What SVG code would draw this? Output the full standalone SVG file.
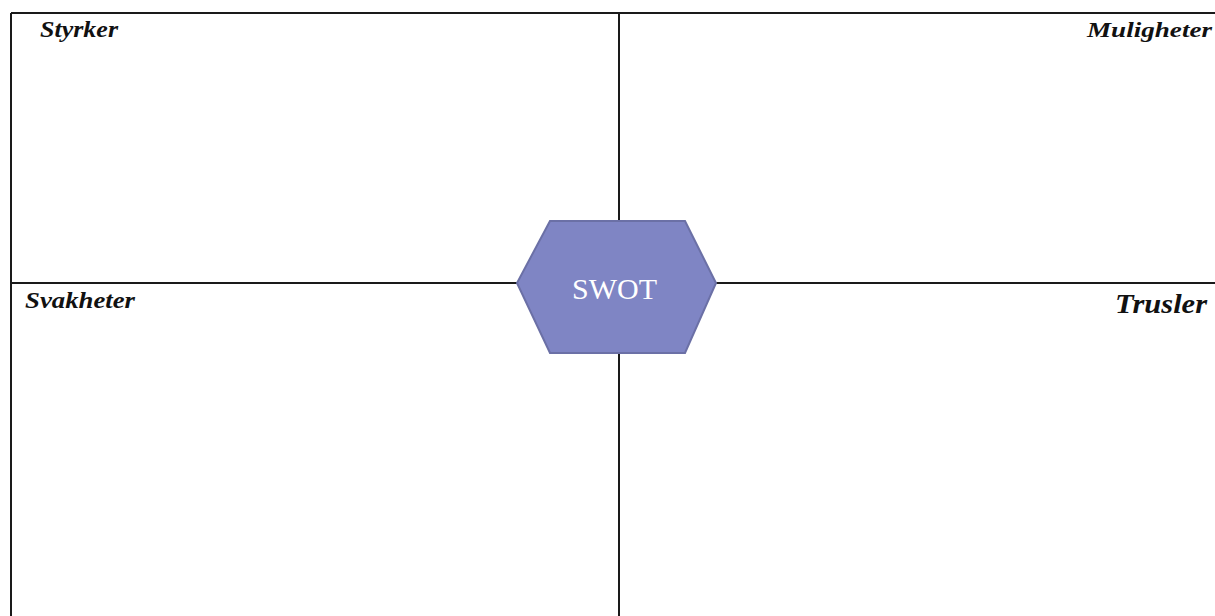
<svg xmlns="http://www.w3.org/2000/svg" width="1215" height="616" viewBox="0 0 1215 616">
<style>
.ln{stroke:#1a1a1a;stroke-width:2;fill:none}
.lbl{font-family:"Liberation Serif",serif;font-weight:bold;font-style:italic;fill:#111}
</style>
<rect width="1215" height="616" fill="#fff"/>
<g id="connectors">
<line class="ln" x1="11" y1="13" x2="1215" y2="13"/>
<line class="ln" x1="11" y1="13" x2="11" y2="616"/>
<line class="ln" x1="11" y1="283" x2="1215" y2="283"/>
<line class="ln" x1="619" y1="13" x2="619" y2="616"/>
</g>
<g id="styrker"><text class="lbl" x="40" y="37" font-size="23" textLength="78" lengthAdjust="spacingAndGlyphs">Styrker</text></g>
<g id="muligheter"><text class="lbl" x="1087" y="37" font-size="22" textLength="125" lengthAdjust="spacingAndGlyphs">Muligheter</text></g>
<g id="svakheter"><text class="lbl" x="25" y="308" font-size="23" textLength="110" lengthAdjust="spacingAndGlyphs">Svakheter</text></g>
<g id="trusler"><text class="lbl" x="1115" y="313" font-size="28" textLength="92" lengthAdjust="spacingAndGlyphs">Trusler</text></g>
<g id="swot">
<polygon points="550,221 685,221 716,283 685,353 550,353 517,283" fill="#7f85c4" stroke="#6b70a6" stroke-width="2"/>
<text x="572" y="299" font-family="Liberation Serif,serif" font-size="29" fill="#fff" textLength="85" lengthAdjust="spacingAndGlyphs">SWOT</text>
</g>
</svg>
